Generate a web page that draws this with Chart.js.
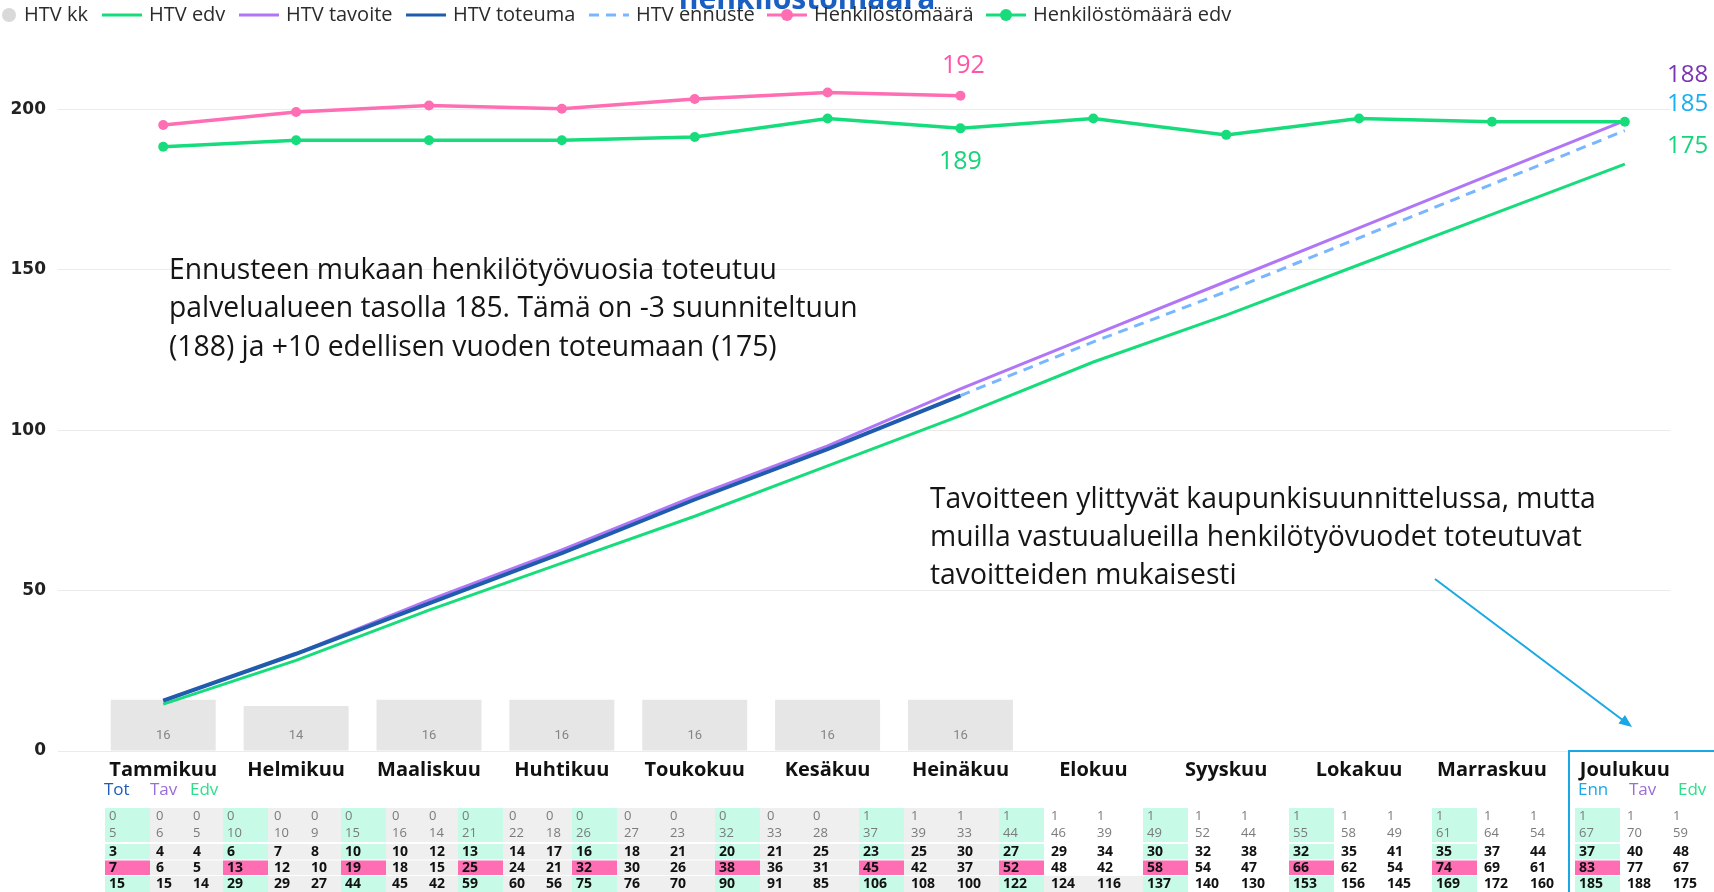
<!DOCTYPE html>
<html lang="fi">
<head>
<meta charset="UTF-8">
<title>HTV ja henkilöstömäärä</title>
<script src="https://cdn.jsdelivr.net/npm/chart.js@4.4.1/dist/chart.umd.min.js"></script>
<style>
  html, body { margin: 0; padding: 0; background: #fff; }
  #wrap { width: 1714px; height: 892px; overflow: hidden; }
</style>
</head>
<body>
<div id="wrap"><canvas id="htvChart" width="1714" height="892"></canvas></div>
<script>
// ======================================================
// Data
// ======================================================
const months = ['Tammikuu', 'Helmikuu', 'Maaliskuu', 'Huhtikuu', 'Toukokuu', 'Kesäkuu',
                'Heinäkuu', 'Elokuu', 'Syyskuu', 'Lokakuu', 'Marraskuu', 'Joulukuu'];
const yTicks = [0, 50, 100, 150, 200];

// HTV per kuukausi (pylväät)
const htvKk = [16, 14, 16, 16, 16, 16, 16];

// kumulatiiviset HTV-sarjat
const htvToteuma = [15, 29, 44, 59, 75, 90, 106];
const htvEnnuste = [null, null, null, null, null, null, 106, 122, 137, 153, 169, 185];
const htvTavoite = [15, 29, 45, 60, 76, 91, 108, 124, 140, 156, 172, 188];
const htvEdv = [14, 27, 42, 56, 70, 85, 100, 116, 130, 145, 160, 175];

// henkilöstömäärä
const henkilosto = [189.3, 190.5, 191.1, 190.8, 191.7, 192.3, 192];
const henkilostoEdv = [187.3, 187.9, 187.9, 187.9, 188.2, 189.9, 189, 189.9, 188.4, 189.9, 189.6, 189.6];

// taulukon rivit, kuukausittain Tot/Enn, Tav, Edv
const tblRivi1 = [0,0,0, 0,0,0, 0,0,0, 0,0,0, 0,0,0, 0,0,0, 1,1,1, 1,1,1, 1,1,1, 1,1,1, 1,1,1, 1,1,1];
const tblRivi2 = [5,6,5, 10,10,9, 15,16,14, 21,22,18, 26,27,23, 32,33,28, 37,39,33, 44,46,39, 49,52,44, 55,58,49, 61,64,54, 67,70,59];
const tblRivi3 = [3,4,4, 6,7,8, 10,10,12, 13,14,17, 16,18,21, 20,21,25, 23,25,30, 27,29,34, 30,32,38, 32,35,41, 35,37,44, 37,40,48];
const tblRivi4 = [7,6,5, 13,12,10, 19,18,15, 25,24,21, 32,30,26, 38,36,31, 45,42,37, 52,48,42, 58,54,47, 66,62,54, 74,69,61, 83,77,67];

// ======================================================
// Colours & fonts
// ======================================================
const GREEN = '#17dc7b';
const PINK = '#ff6db3';
const PURPLE = '#b076f6';
const BLUE = '#1f5cae';
const LIGHTBLUE = '#78b6ff';
const CYAN = '#1aa8e4';
const SANS = '"Open Sans", "Noto Sans", sans-serif';

function xy(values) {
    const pts = [];
    values.forEach((v, i) => { if (v !== null) pts.push({ x: i, y: v }); });
    return pts;
}

// ======================================================
// Overlay drawing: legend, title, labels, notes, table
// ======================================================
function drawLegend(ctx, chart) {
    const textX = [24, 149, 286, 453, 636, 814, 1033];
    const y = 15;
    ctx.save();
    ctx.font = '20px ' + SANS;
    ctx.textBaseline = 'middle';
    ctx.textAlign = 'left';
    chart.data.datasets.forEach((ds, i) => {
        const tx = textX[i];
        if (ds.type === 'bar' || !ds.type) {
            ctx.fillStyle = '#d9d9d9';
            ctx.beginPath();
            ctx.arc(9, y, 7, 0, Math.PI * 2);
            ctx.fill();
        } else {
            ctx.strokeStyle = ds.borderColor;
            ctx.lineWidth = 3;
            ctx.setLineDash(ds.borderDash || []);
            ctx.beginPath();
            ctx.moveTo(tx - 47, y);
            ctx.lineTo(tx - 7, y);
            ctx.stroke();
            ctx.setLineDash([]);
            if (ds.pointRadius > 0) {
                ctx.fillStyle = ds.borderColor;
                ctx.beginPath();
                ctx.arc(tx - 27, y, 6, 0, Math.PI * 2);
                ctx.fill();
            }
        }
        ctx.fillStyle = '#2b2b2b';
        ctx.fillText(ds.label, tx, y);
    });
    ctx.restore();
}

function drawTitle(ctx) {
    ctx.save();
    ctx.font = 'bold 30px ' + SANS;
    ctx.fillStyle = '#1a5fc2';
    ctx.textAlign = 'center';
    ctx.textBaseline = 'alphabetic';
    ctx.fillText('henkilöstömäärä', 807, 9);
    ctx.restore();
}

function drawValueLabels(ctx, chart) {
    const area = chart.chartArea;
    ctx.save();

    // pylväiden arvot
    ctx.font = '13px Roboto, sans-serif';
    ctx.fillStyle = '#858585';
    ctx.textAlign = 'center';
    ctx.textBaseline = 'middle';
    chart.getDatasetMeta(0).data.forEach((bar, i) => {
        ctx.fillText(String(htvKk[i]), bar.x, area.bottom - 15);
    });

    // henkilöstömäärä heinäkuu
    ctx.font = '25px ' + SANS;
    const pHenk = chart.getDatasetMeta(5).data[6];
    ctx.fillStyle = '#ff55a6';
    ctx.fillText(String(henkilosto[6]), pHenk.x + 3, pHenk.y - 30);
    const pEdv = chart.getDatasetMeta(6).data[6];
    ctx.fillStyle = '#17d47a';
    ctx.fillText(String(henkilostoEdv[6]), pEdv.x, pEdv.y + 34);

    // vuoden lopun arvot oikeassa reunassa
    ctx.font = '24px ' + SANS;
    ctx.textAlign = 'left';
    ctx.fillStyle = '#7a36b2';
    ctx.fillText(String(htvTavoite[11]), 1667, area.top + 30);
    ctx.fillStyle = '#1ab0f0';
    ctx.fillText(String(htvEnnuste[11]), 1667, area.top + 59);
    ctx.fillStyle = '#17d47a';
    ctx.fillText(String(htvEdv[11]), 1667, area.top + 101);
    ctx.restore();
}

function drawNotes(ctx) {
    const note1 = ['Ennusteen mukaan henkilötyövuosia toteutuu',
                   'palvelualueen tasolla 185. Tämä on -3 suunniteltuun',
                   '(188) ja +10 edellisen vuoden toteumaan (175)'];
    const note2 = ['Tavoitteen ylittyvät kaupunkisuunnittelussa, mutta',
                   'muilla vastuualueilla henkilötyövuodet toteutuvat',
                   'tavoitteiden mukaisesti'];
    ctx.save();
    ctx.font = '28.3px ' + SANS;
    ctx.fillStyle = '#151515';
    ctx.textAlign = 'left';
    ctx.textBaseline = 'middle';
    note1.forEach((t, i) => ctx.fillText(t, 169, 271 + i * 38.3));
    note2.forEach((t, i) => ctx.fillText(t, 930, 500 + i * 37.8));

    // nuoli joulukuun sarakkeeseen
    const x1 = 1435, y1 = 579, x2 = 1632, y2 = 727;
    const ang = Math.atan2(y2 - y1, x2 - x1);
    ctx.strokeStyle = CYAN;
    ctx.fillStyle = CYAN;
    ctx.lineWidth = 2;
    ctx.beginPath();
    ctx.moveTo(x1, y1);
    ctx.lineTo(x2 - 8 * Math.cos(ang), y2 - 8 * Math.sin(ang));
    ctx.stroke();
    ctx.beginPath();
    ctx.moveTo(x2, y2);
    ctx.lineTo(x2 - 14 * Math.cos(ang - 0.4), y2 - 14 * Math.sin(ang - 0.4));
    ctx.lineTo(x2 - 14 * Math.cos(ang + 0.4), y2 - 14 * Math.sin(ang + 0.4));
    ctx.closePath();
    ctx.fill();
    ctx.restore();
}

function drawTable(ctx) {
    const groupX = [105, 223, 341, 458, 572, 715, 859, 999, 1143, 1289, 1432, 1575];
    const colNarrow = [0, 47, 84];
    const colWide = [0, 48, 94];
    const totW = 45;
    const blocks = [[808, 34], [844, 15.5], [860.5, 14.5], [876, 16]];
    const rowY = [816, 833, 852, 868, 884];
    const MINT = '#c8fbe7';
    const GRAY = '#efefef';

    ctx.save();

    // solujen taustat
    groupX.forEach((gx, i) => {
        const next = i < groupX.length - 1 ? groupX[i + 1] : 1714;
        blocks.forEach((b, bi) => {
            ctx.fillStyle = (bi === 2) ? PINK : MINT;
            ctx.fillRect(gx, b[0], totW, b[1]);
            if (i <= 6 || (i === 7 && bi === 3)) {
                ctx.fillStyle = GRAY;
                ctx.fillRect(gx + totW, b[0], next - gx - totW, b[1]);
            }
        });
    });

    // arvot
    const rows = [tblRivi1, tblRivi2, tblRivi3, tblRivi4];
    ctx.textAlign = 'left';
    ctx.textBaseline = 'middle';
    groupX.forEach((gx, i) => {
        const offs = i < 4 ? colNarrow : colWide;
        const totals = [i <= 6 ? htvToteuma[i] : htvEnnuste[i], htvTavoite[i], htvEdv[i]];
        for (let c = 0; c < 3; c++) {
            const tx = gx + offs[c] + 4;
            for (let r = 0; r < 5; r++) {
                const v = r < 4 ? rows[r][i * 3 + c] : totals[c];
                if (r < 2) {
                    ctx.font = '13px ' + SANS;
                    ctx.fillStyle = '#7a7a7a';
                } else {
                    ctx.font = 'bold 14px ' + SANS;
                    ctx.fillStyle = '#111';
                }
                ctx.fillText(String(v), tx, rowY[r]);
            }
        }
    });

    // sarakeotsikot
    ctx.font = '17px ' + SANS;
    [['Tot', '#1f5cb8', 104], ['Tav', '#9a6cd8', 150], ['Edv', '#2ddf8a', 190],
     ['Enn', '#1aa8e8', 1578], ['Tav', '#9a6cd8', 1629], ['Edv', '#2ddf8a', 1678]].forEach(h => {
        ctx.fillStyle = h[1];
        ctx.fillText(h[0], h[2], 790);
    });

    // joulukuun kehys
    ctx.strokeStyle = CYAN;
    ctx.lineWidth = 2;
    ctx.strokeRect(1569, 751, 220, 200);
    ctx.restore();
}

const overlayPlugin = {
    id: 'overlay',
    beforeDraw(chart) {
        const ctx = chart.ctx;
        ctx.save();
        ctx.fillStyle = '#fff';
        ctx.fillRect(0, 0, chart.width, chart.height);
        ctx.restore();
    },
    afterDraw(chart) {
        const ctx = chart.ctx;
        drawValueLabels(ctx, chart);
        drawNotes(ctx);
        drawTable(ctx);
        drawTitle(ctx);
        drawLegend(ctx, chart);
    }
};

// ======================================================
// Chart
// ======================================================
const ctx = document.getElementById('htvChart').getContext('2d');
new Chart(ctx, {
    type: 'bar',
    data: {
        datasets: [
            { type: 'bar', label: 'HTV kk', data: xy(htvKk), backgroundColor: '#e6e6e6',
              barPercentage: 0.79, categoryPercentage: 1, yAxisID: 'y', order: 10 },
            { type: 'line', label: 'HTV edv', data: xy(htvEdv), borderColor: GREEN, borderWidth: 3,
              pointRadius: 0, tension: 0, yAxisID: 'yCum', order: 6 },
            { type: 'line', label: 'HTV tavoite', data: xy(htvTavoite), borderColor: PURPLE, borderWidth: 3,
              pointRadius: 0, tension: 0, yAxisID: 'yCum', order: 5 },
            { type: 'line', label: 'HTV toteuma', data: xy(htvToteuma), borderColor: BLUE, borderWidth: 4,
              pointRadius: 0, tension: 0, yAxisID: 'yCum', order: 3 },
            { type: 'line', label: 'HTV ennuste', data: xy(htvEnnuste), borderColor: LIGHTBLUE, borderWidth: 3,
              borderDash: [10, 7], pointRadius: 0, tension: 0, yAxisID: 'yCum', order: 4 },
            { type: 'line', label: 'Henkilöstömäärä', data: xy(henkilosto), borderColor: PINK, backgroundColor: PINK,
              borderWidth: 3.5, pointRadius: 5, pointBackgroundColor: PINK, pointBorderWidth: 0,
              tension: 0, yAxisID: 'yHead', order: 1 },
            { type: 'line', label: 'Henkilöstömäärä edv', data: xy(henkilostoEdv), borderColor: GREEN, backgroundColor: GREEN,
              borderWidth: 3.5, pointRadius: 5, pointBackgroundColor: GREEN, pointBorderWidth: 0,
              tension: 0, yAxisID: 'yHead', order: 2 }
        ]
    },
    options: {
        responsive: false,
        animation: false,
        devicePixelRatio: 1,
        layout: { padding: { top: 45, right: 44, left: 0, bottom: 0 } },
        plugins: {
            legend: { display: false },
            tooltip: { enabled: false }
        },
        scales: {
            x: {
                type: 'linear',
                min: -0.792,
                max: 11.34,
                offset: false,
                grid: { display: false, drawTicks: false, tickLength: 0 },
                border: { display: false },
                ticks: {
                    autoSkip: false,
                    maxRotation: 0,
                    padding: 7,
                    color: '#111',
                    font: { family: SANS, size: 20, weight: 'bold' },
                    callback: (value) => months[value]
                },
                afterBuildTicks: (axis) => { axis.ticks = months.map((m, i) => ({ value: i })); },
                afterFit: (axis) => { axis.height = 141; axis.paddingLeft = 0; axis.paddingRight = 0; }
            },
            y: {
                min: 0,
                max: 220,
                grid: { color: '#ebebeb', lineWidth: 1, drawTicks: false },
                border: { display: false },
                ticks: {
                    padding: 12,
                    color: '#222',
                    font: { family: '"DejaVu Sans", sans-serif', size: 17, weight: 'bold' }
                },
                afterBuildTicks: (axis) => { axis.ticks = yTicks.map(v => ({ value: v })); },
                afterFit: (axis) => { axis.width = 58; axis.paddingTop = 0; axis.paddingBottom = 0; }
            },
            yCum: { display: false, min: 0, max: 220 / 1.045 },
            yHead: { display: false, min: 131.7, max: 196.67 }
        }
    },
    plugins: [overlayPlugin]
});
console.log('HTV chart drawn');
</script>
</body>
</html>
